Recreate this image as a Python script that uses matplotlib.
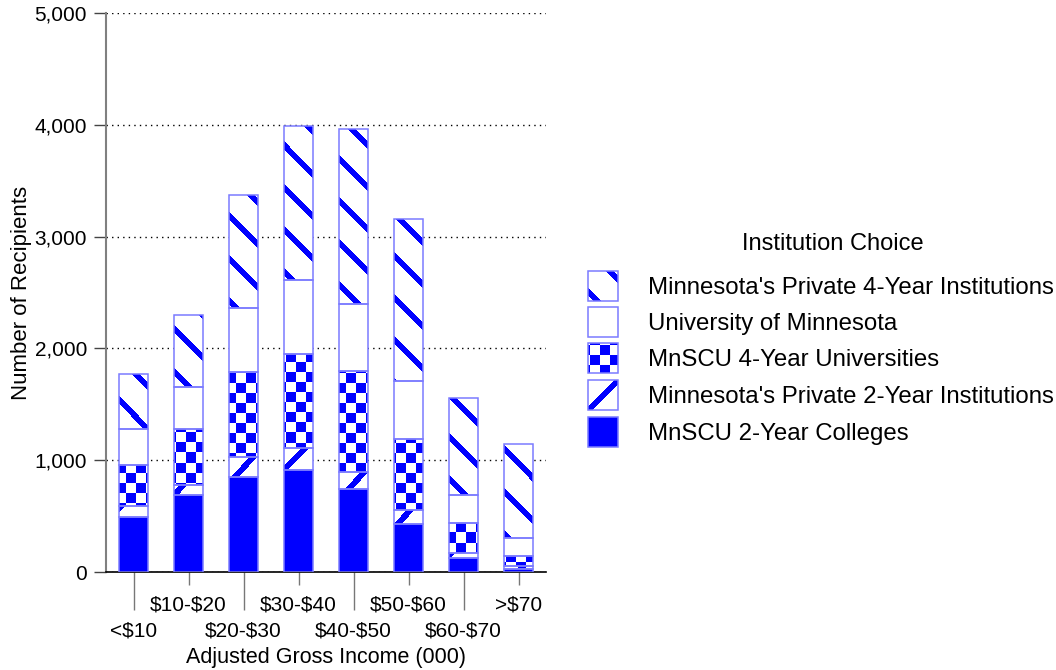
import numpy as np
import matplotlib
matplotlib.use("Agg")
import matplotlib.pyplot as plt
from matplotlib.patches import Rectangle
from matplotlib.ticker import FuncFormatter

plt.rcParams['font.family'] = ['Liberation Sans', 'DejaVu Sans']

categories = ['<$10', '$10-$20', '$20-$30', '$30-$40', '$40-$50', '$50-$60', '$60-$70', '>$70']
mnscu_2yr = [495, 686, 850, 915, 740, 429, 122, 25]
private_2yr = [98, 92, 179, 191, 157, 126, 45, 25]
mnscu_4yr = [364, 501, 760, 841, 901, 632, 274, 90]
univ_mn = [319, 373, 572, 665, 602, 521, 248, 162]
private_4yr = [495, 647, 1011, 1381, 1560, 1449, 865, 846]

# stacking order, bottom to top
series = [
    ("MnSCU 2-Year Colleges", mnscu_2yr, "solid"),
    ("Minnesota's Private 2-Year Institutions", private_2yr, "fwd"),
    ("MnSCU 4-Year Universities", mnscu_4yr, "checker"),
    ("University of Minnesota", univ_mn, "empty"),
    ("Minnesota's Private 4-Year Institutions", private_4yr, "back"),
]

BLUE = (0, 0, 1, 1)
EDGE = '#7b7bff'


def make_pattern(kind, h, w, off=0):
    i, j = np.mgrid[0:h, 0:w]
    if kind == 'solid':
        mask = np.ones((h, w), bool)
    elif kind == 'checker':
        mask = ((i // 10) + (j // 10)) % 2 == 0
    elif kind == 'back':
        mask = (j - i + off) % 42 < 8
    elif kind == 'fwd':
        mask = (j + i + off) % 42 < 8
    else:
        mask = np.zeros((h, w), bool)
    img = np.zeros((h, w, 4))
    img[mask] = BLUE
    return img


fig = plt.figure(figsize=(10.56, 6.70), dpi=100)
ax = fig.add_axes([106 / 1056, 98 / 670, 440 / 1056, 559 / 670])
x = np.arange(len(categories))
xlim = (-0.5, len(categories) - 0.5)
ylim = (0, 5000)
W, H = 440, 559

bottom = np.zeros(len(categories))
for name, vals, kind in series:
    bars = ax.bar(x, vals, width=0.51, bottom=bottom, color='white',
                  edgecolor='none', zorder=2)
    if kind != 'empty':
        pat = make_pattern(kind, H, W)
        for b in bars:
            im = ax.imshow(pat, extent=(xlim[0], xlim[1], ylim[0], ylim[1]),
                           origin='upper', aspect='auto',
                           interpolation='nearest', zorder=2.5)
            im.set_clip_path(b)
    ax.bar(x, vals, width=0.51, bottom=bottom, fill=False,
           edgecolor=EDGE, linewidth=1.1, zorder=3)
    bottom += np.array(vals)

ax.set_xlim(*xlim)
ax.set_ylim(*ylim)
ax.set_aspect('auto')

ax.set_yticks(np.arange(0, 5001, 1000))
ax.yaxis.set_major_formatter(FuncFormatter(lambda v, p: f'{int(v):,}'))
ax.tick_params(axis='y', length=8.6, width=1, color='#444444', pad=5,
               labelsize=15)
ax.yaxis.grid(True, linestyle=(0, (1, 3)), color='black', linewidth=1)
ax.set_axisbelow(True)

labels = [c.replace('$', r'\$') for c in categories]
ax.set_xticks(x[::2], labels[::2])
ax.set_xticks(x[1::2], labels[1::2], minor=True)
ax.tick_params(axis='x', which='major', length=27.4, width=1,
               color='#777777', pad=8.3, labelsize=15)
ax.tick_params(axis='x', which='minor', length=9.4, width=1,
               color='#777777', pad=7.6, labelsize=15)

for s in ['top', 'right']:
    ax.spines[s].set_visible(False)
ax.spines['left'].set_color('#808080')
ax.spines['left'].set_linewidth(1.5)
ax.spines['bottom'].set_color('black')
ax.spines['bottom'].set_linewidth(1.2)

ax.set_xlabel('Adjusted Gross Income (000)', fontsize=15.5)
ax.xaxis.set_label_coords(0.5, -0.1334)
ax.set_ylabel('Number of Recipients', fontsize=16)
ax.yaxis.set_label_coords(-0.169, 0.5)

# legend drawn by hand so the patterns match the bars
lax = fig.add_axes([580 / 1056, (670 - 455) / 670, 476 / 1056, 230 / 670])
lax.set_xlim(580, 1056)
lax.set_ylim(455, 225)
lax.axis('off')
lax.text(833, 244, 'Institution Choice', ha='center', va='center',
         fontsize=17)
row_y = [286, 322, 358, 395, 432]
offsets = {'back': 20, 'fwd': 21}
for (name, vals, kind), yc in zip(series[::-1], row_y):
    rect = Rectangle((588, yc - 15), 30, 30, facecolor='white',
                     edgecolor='none', zorder=1)
    lax.add_patch(rect)
    if kind != 'empty':
        pat = make_pattern(kind, 230, 476, offsets.get(kind, 0))
        im = lax.imshow(pat, extent=(580, 1056, 455, 225), origin='upper',
                        aspect='auto', interpolation='nearest', zorder=2)
        im.set_clip_path(rect)
    lax.add_patch(Rectangle((588, yc - 15), 30, 30, fill=False,
                            edgecolor=EDGE, linewidth=1.1, zorder=3))
    lax.text(648, yc + 2, name, ha='left', va='center', fontsize=17.3)
lax.set_xlim(580, 1056)
lax.set_ylim(455, 225)

fig.savefig('out.png', dpi=100)
